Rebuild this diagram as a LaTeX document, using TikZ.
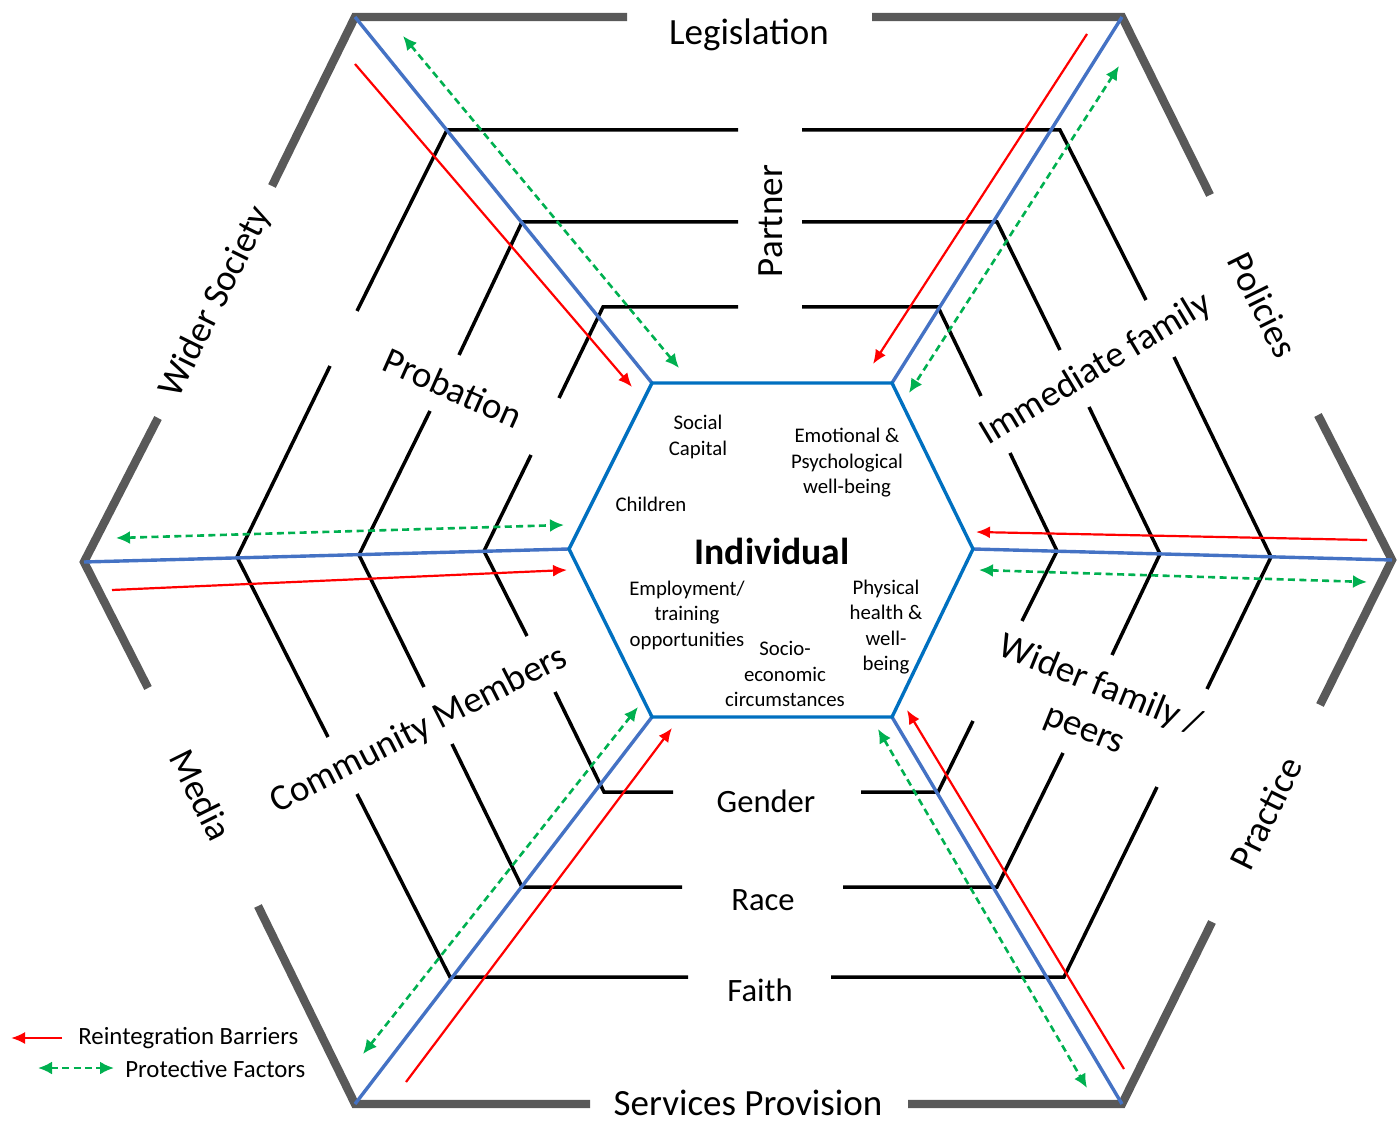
\documentclass[tikz,border=0pt]{standalone}
\usepackage{fontspec}
\setmainfont{Carlito}
\usetikzlibrary{arrows.meta}
\definecolor{grayline}{HTML}{595959}
\definecolor{spoke}{HTML}{4472C4}
\definecolor{innerblue}{HTML}{0070C0}
\definecolor{barrier}{HTML}{FF0000}
\definecolor{protect}{HTML}{00B050}
\begin{document}
\begin{tikzpicture}[x=0.5pt,y=-0.5pt,
  outerline/.style={draw=grayline,line width=4.2pt},
  levelline/.style={draw=black,line width=1.75pt},
  spokeline/.style={draw=spoke,line width=1.7pt},
  innerhex/.style={draw=innerblue,line width=1.7pt},
  barrierarrow/.style={draw=barrier,line width=1.1pt,-{Latex[length=7pt,width=6pt]}},
  protectarrow/.style={draw=protect,line width=1.3pt,dash pattern=on 3.5pt off 2.2pt,{Latex[length=7pt,width=6.5pt]}-{Latex[length=7pt,width=6.5pt]}},
  biglabel/.style={font=\fontsize{18.5}{22}\selectfont,inner sep=0pt},
  midlabel/.style={font=\fontsize{16.3}{19.5}\selectfont,inner sep=0pt},
  smalllabel/.style={font=\fontsize{10.4}{12.75}\selectfont,align=center,inner sep=0pt},
  legendlabel/.style={font=\fontsize{12.4}{15}\selectfont,anchor=west,inner sep=0pt}
]
\useasboundingbox (0,0) rectangle (1397,1122);
% outer hexagon vertices
\coordinate (OTL) at (355,17);
\coordinate (OTR) at (1122,17);
\coordinate (OR) at (1392,560);
\coordinate (OBR) at (1122,1104);
\coordinate (OBL) at (355,1104);
\coordinate (OL) at (84,562);
% inner hexagon vertices
\coordinate (ITL) at (652,383);
\coordinate (ITR) at (892,383);
\coordinate (IR) at (973,549);
\coordinate (IBR) at (892,717);
\coordinate (IBL) at (652,717);
\coordinate (IL) at (569,549);

% outer gray hexagon (with gaps)
\draw[outerline] (627,17) -- (OTL) -- (272,186);
\draw[outerline] (158,418) -- (OL) -- (148,688);
\draw[outerline] (258,906) -- (OBL) -- (590,1104);
\draw[outerline] (908,1104) -- (OBR) -- (1212,922);
\draw[outerline] (1320,705) -- (OR) -- (1318,415);
\draw[outerline] (1210,195) -- (OTR) -- (872,17);

% level 1
\draw[levelline] (357,311) -- (447,130) -- (738,130);
\draw[levelline] (802,130) -- (1060,130) -- (1146,300);
\draw[levelline] (1174,357) -- (1271,557) -- (1207,689);
\draw[levelline] (1157,787) -- (1064,977) -- (831,977);
\draw[levelline] (688,977) -- (450,977) -- (357,794);
\draw[levelline] (328,737) -- (237,557) -- (330,366);
% level 2
\draw[levelline] (459,355) -- (522,222) -- (738,222);
\draw[levelline] (802,222) -- (997,222) -- (1060,350);
\draw[levelline] (1089,407) -- (1160,554) -- (1112,655);
\draw[levelline] (1063,753) -- (997,887) -- (843,887);
\draw[levelline] (682,887) -- (522,887) -- (452,744);
\draw[levelline] (424,687) -- (359,555) -- (430,411);
% level 3
\draw[levelline] (559,398) -- (603,307) -- (738,307);
\draw[levelline] (802,307) -- (938,307) -- (981,396);
\draw[levelline] (1010,453) -- (1057,551) -- (1022,621);
\draw[levelline] (973,721) -- (938,792) -- (861,792);
\draw[levelline] (673,792) -- (604,792) -- (555,692);
\draw[levelline] (527,636) -- (484,551) -- (531,455);

% blue spokes
\draw[spokeline] (OTL) -- (ITL);
\draw[spokeline] (OTR) -- (ITR);
\draw[spokeline] (OR) -- (IR);
\draw[spokeline] (OBR) -- (IBR);
\draw[spokeline] (OBL) -- (IBL);
\draw[spokeline] (OL) -- (IL);
% inner hexagon
\draw[innerhex] (ITL) -- (ITR) -- (IR) -- (IBR) -- (IBL) -- (IL) -- cycle;

% barrier arrows
\coordinate (rA1) at (355,64);   \coordinate (rA2) at (632,387);
\coordinate (rB1) at (1087,34);  \coordinate (rB2) at (873,364);
\coordinate (rC1) at (1367,540); \coordinate (rC2) at (976,532);
\coordinate (rD1) at (1124,1069);\coordinate (rD2) at (907,710);
\coordinate (rE1) at (406,1082); \coordinate (rE2) at (672,728);
\coordinate (rF1) at (112,590);  \coordinate (rF2) at (567,570);
\draw[barrierarrow] (rA1) -- (rA2);
\draw[barrierarrow] (rB1) -- (rB2);
\draw[barrierarrow] (rC1) -- (rC2);
\draw[barrierarrow] (rD1) -- (rD2);
\draw[barrierarrow] (rE1) -- (rE2);
\draw[barrierarrow] (rF1) -- (rF2);
% protective arrows
\coordinate (gA1) at (403,36);   \coordinate (gA2) at (679,368);
\coordinate (gB1) at (1119,66);  \coordinate (gB2) at (909,393);
\coordinate (gC1) at (979,570);  \coordinate (gC2) at (1367,582);
\coordinate (gD1) at (878,729);  \coordinate (gD2) at (1087,1088);
\coordinate (gE1) at (638,707);  \coordinate (gE2) at (363,1054);
\coordinate (gF1) at (116,538);  \coordinate (gF2) at (564,525);
\draw[protectarrow] (gA1) -- (gA2);
\draw[protectarrow] (gB1) -- (gB2);
\draw[protectarrow] (gC1) -- (gC2);
\draw[protectarrow] (gD1) -- (gD2);
\draw[protectarrow] (gE1) -- (gE2);
\draw[protectarrow] (gF1) -- (gF2);

% outer labels
\node[biglabel] (legis) at (749,35) {Legislation};
\node[biglabel] (servp) at (748,1103) {Services Provision};
\node[biglabel,rotate=63.6] (widersoc) at (216,302) {Wider Society};
\node[biglabel,rotate=-63.6] (media) at (201,795) {Media};
\node[biglabel,rotate=-63.6] (policies) at (1263,305) {Policies};
\node[biglabel,rotate=63.6] (practice) at (1266,813) {Practice};
% middle labels
\node[biglabel,rotate=90] (partner) at (771,221) {Partner};
\node[biglabel,rotate=-24] (probation) at (453,388) {Probation};
\node[biglabel,rotate=31] (immfam) at (1096,369) {Immediate family};
\node[biglabel,rotate=27] (commem) at (419,730) {Community Members};
\node[biglabel,rotate=-22] (widerfam) at (1100,686) {Wider family /};
\node[biglabel,rotate=-22] (peers) at (1083,733) {peers};
\node[midlabel] (gender) at (766,801) {Gender};
\node[midlabel] (race) at (763,900) {Race};
\node[midlabel] (faith) at (760,990) {Faith};
% inner labels
\node[font=\fontsize{18.8}{22}\selectfont\bfseries,inner sep=0pt] (indiv) at (772,551) {Individual};
\node[smalllabel] (soccap) at (698,437) {Social\\Capital};
\node[smalllabel] (emo) at (847,463) {Emotional \&\\Psychological\\well-being};
\node[smalllabel] (children) at (651,504) {Children};
\node[smalllabel] (employ) at (687,615) {Employment/\\training\\opportunities};
\node[smalllabel] (phys) at (886,627) {Physical\\health \&\\well-\\being};
\node[smalllabel] (socio) at (785,674) {Socio-\\economic\\circumstances};

% legend
\coordinate (lb1) at (62,1038); \coordinate (lb2) at (11,1038);
\draw[barrierarrow] (lb1) -- (lb2);
\node[legendlabel] (legb) at (78,1038) {Reintegration Barriers};
\coordinate (lp1) at (38,1068); \coordinate (lp2) at (114,1068);
\draw[protectarrow] (lp1) -- (lp2);
\node[legendlabel] (legp) at (125,1069) {Protective Factors};
\end{tikzpicture}
\end{document}
